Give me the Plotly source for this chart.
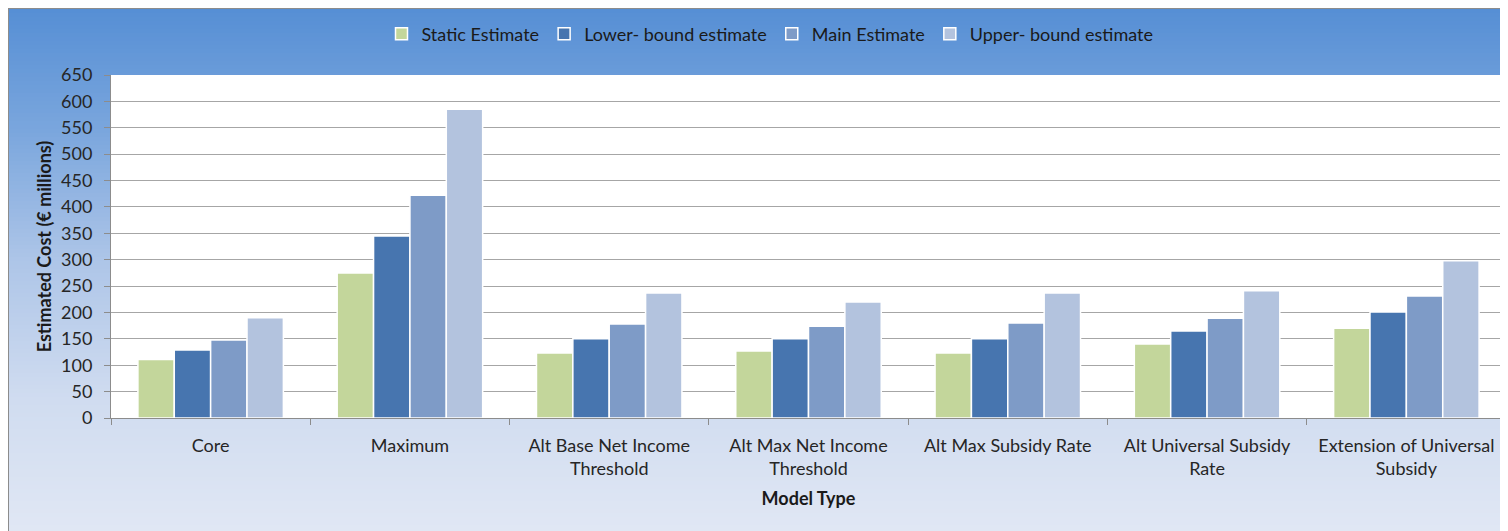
import plotly.graph_objects as go

categories = ["Core", "Maximum", "Alt Base Net Income<br>Threshold", "Alt Max Net Income<br>Threshold",
              "Alt Max Subsidy Rate", "Alt Universal Subsidy<br>Rate", "Extension of Universal<br>Subsidy"]
static_estimate = [111, 275, 123, 127, 123, 140, 170]
lower_bound = [129, 345, 150, 150, 150, 165, 201]
main_estimate = [148, 422, 178, 174, 180, 189, 231]
upper_bound = [190, 585, 237, 220, 237, 241, 298]

series_names = ["Static Estimate", "Lower- bound estimate", "Main Estimate", "Upper- bound estimate"]
series_values = [static_estimate, lower_bound, main_estimate, upper_bound]
series_colors = ["#C3D69B", "#4775AF", "#7E9BC7", "#B3C3DE"]

# page body has an 8px margin; figure pixel = reference pixel - 8
OFF = 8
W, H = 1508 - OFF, 531 - OFF
L, R, T, B = 111 - OFF, 1506 - OFF, 75 - OFF, 418 - OFF  # plot area pixel box (figure coords)

def px_x(px):
    return (px - L) / (R - L)

def px_y(py):
    return (B - py) / (B - T)

fig = go.Figure()
for name, vals, col in zip(series_names, series_values, series_colors):
    fig.add_trace(go.Bar(x=categories, y=vals, name=name,
                         marker=dict(color=col, line=dict(color="white", width=1.5))))

# background gradient strips (reference y coordinates)
stops = [(0, (83, 141, 212)), (130, (122, 166, 221)), (265, (175, 198, 232)),
         (400, (208, 220, 240)), (531, (224, 231, 244))]

def col_at(y):
    for (y0, c0), (y1, c1) in zip(stops[:-1], stops[1:]):
        if y0 <= y <= y1:
            t = (y - y0) / (y1 - y0)
            return tuple(int(round(a + (b - a) * t)) for a, b in zip(c0, c1))
    return stops[-1][1]

shapes = []
step = 4
y = 1
while y < H:
    y2 = min(y + step, H)
    c = col_at((y + y2) / 2 + OFF)
    shapes.append(dict(type="rect", xref="paper", yref="paper", layer="below",
                       x0=px_x(1), x1=px_x(W), y0=px_y(y2 + 0.5), y1=px_y(y),
                       fillcolor="rgb(%d,%d,%d)" % c, line=dict(width=0)))
    y = y2
# white plot area
shapes.append(dict(type="rect", xref="paper", yref="paper", layer="below",
                   x0=0, x1=1, y0=0, y1=1, fillcolor="white", line=dict(width=0)))
# outer frame lines
shapes.append(dict(type="line", xref="paper", yref="paper", x0=px_x(0), x1=px_x(0),
                   y0=px_y(0), y1=px_y(H), line=dict(color="#8C8C8C", width=2)))
shapes.append(dict(type="line", xref="paper", yref="paper", x0=px_x(0), x1=px_x(W),
                   y0=px_y(0), y1=px_y(0), line=dict(color="#8C8C8C", width=2)))
# right plot border
shapes.append(dict(type="line", xref="paper", yref="paper", x0=1, x1=1, y0=0, y1=1,
                   line=dict(color="#C9D3E6", width=1)))

font = "Lato, 'Open Sans', sans-serif"
fig.update_layout(
    width=W, height=H,
    margin=dict(l=L, r=W - R, t=T, b=H - B, pad=0),
    paper_bgcolor="white", plot_bgcolor="white",
    barmode="group", bargap=0.27, bargroupgap=0,
    font=dict(family=font, size=18, color="#262626"),
    shapes=shapes,
    showlegend=True,
    legend=dict(orientation="h", x=px_x(770 - OFF), xanchor="center", y=px_y(34 - OFF), yanchor="middle",
                font=dict(size=18, color="#1a1a1a"), bgcolor="rgba(0,0,0,0)",
                traceorder="normal"),
    xaxis=dict(type="category", showline=True, linecolor="#8C8C8C", linewidth=1,
               ticks="outside", tickson="boundaries", ticklen=6, tickcolor="#8C8C8C",
               ticklabelstandoff=11,
               tickfont=dict(size=18, color="#262626"),
               title=dict(text="<b>Model Type</b>", font=dict(size=18, color="#1a1a1a"), standoff=14)),
    yaxis=dict(range=[0, 650], dtick=50, showgrid=True, gridcolor="#A6A6A6", gridwidth=1,
               showline=True, linecolor="#8C8C8C", linewidth=1, ticks="outside", ticklen=6,
               tickcolor="#8C8C8C", tickfont=dict(size=18, color="#262626"), zeroline=False,
               ticklabelstandoff=8,
               title=dict(text="<b>Estimated Cost (€ millions)</b>", font=dict(size=18, color="#1a1a1a"),
                          standoff=4)),
)

fig.write_html("out.html")
